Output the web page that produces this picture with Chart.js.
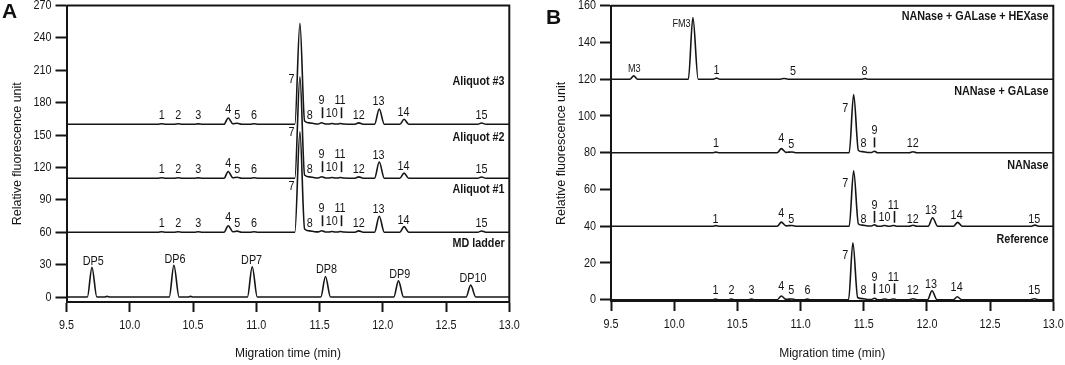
<!DOCTYPE html>
<html>
<head>
<meta charset="utf-8">
<script src="https://cdn.jsdelivr.net/npm/chart.js@4.4.1/dist/chart.umd.min.js"></script>
<style>
  html, body { margin: 0; padding: 0; background: #fff; }
  #wrap { position: relative; width: 1065px; height: 365px; overflow: hidden; background: #fff; }
  canvas { position: absolute; top: 0; }
  .panel { position: absolute; font: bold 21px "Liberation Sans", Arial, sans-serif; line-height: 20px; color: #111; }
</style>
</head>
<body>
<div id="wrap">
  <canvas id="cA" width="530" height="365" style="left:0;width:530px;height:365px"></canvas>
  <canvas id="cB" width="535" height="365" style="left:530px;width:535px;height:365px"></canvas>
  <div class="panel" style="left:2px;top:1px">A</div>
  <div class="panel" style="left:546px;top:7px">B</div>
</div>
<script>
// ---------------- shared ----------------
const xTicks = [9.5, 10.0, 10.5, 11.0, 11.5, 12.0, 12.5, 13.0];
const xTitle = 'Migration time (min)';
const yTitle = 'Relative fluorescence unit';

// ---------------- panel A ----------------
const yTicksA = [0, 30, 60, 90, 120, 150, 180, 210, 240, 270];
const traceNamesA = ['Aliquot #3', 'Aliquot #2', 'Aliquot #1', 'MD ladder'];
const baselinesA = [160, 110, 60, 0];
const traceNameDyA = [39.5, 38.2, 39.7, 49.7];

const aliquotTime = [9.50, 10.22, 10.252, 10.285, 10.35, 10.383, 10.415, 10.51, 10.541, 10.575,
  10.745, 10.778, 10.815, 10.849, 10.885, 10.95, 10.983, 11.015, 11.305, 11.345,
  11.382, 11.42, 11.46, 11.49, 11.516, 11.545, 11.575, 11.597, 11.625, 11.645,
  11.664, 11.69, 11.78, 11.810, 11.845, 11.935, 11.972, 12.012, 12.135, 12.168,
  12.205, 12.75, 12.780, 12.815, 13.00];
const aliquot3 = [0, 0, 0.5, 0, 0, 0.5, 0, 0, 0.4, 0,
  0, 5.8, 0.5, 1.0, 0, 0, 0.5, 0, 0, 93.5,
  3.0, 1.3, 0.5, 0.3, 1.4, 0.3, 0.2, 0.7, 0.2, 0.2,
  0.7, 0.2, 0, 1.3, 0, 0, 14.2, 0, 0, 4.6,
  0, 0, 1.2, 0, 0];
const aliquot2 = [0, 0, 0.5, 0, 0, 0.5, 0, 0, 0.4, 0,
  0, 6.2, 0.5, 1.0, 0, 0, 0.5, 0, 0, 94.0,
  3.0, 1.3, 0.5, 0.3, 1.4, 0.3, 0.2, 0.7, 0.2, 0.2,
  0.7, 0.2, 0, 1.3, 0, 0, 15.0, 0, 0, 4.8,
  0, 0, 1.2, 0, 0];
const aliquot1 = [0, 0, 0.5, 0, 0, 0.5, 0, 0, 0.4, 0,
  0, 6.0, 0.5, 1.0, 0, 0, 0.5, 0, 0, 93.0,
  3.0, 1.3, 0.5, 0.3, 1.4, 0.3, 0.2, 0.7, 0.2, 0.2,
  0.7, 0.2, 0, 1.3, 0, 0, 14.8, 0, 0, 5.2,
  0, 0, 1.2, 0, 0];
const ladderTime = [9.50, 9.665, 9.701, 9.74, 9.80, 9.82, 9.845, 10.312, 10.349, 10.39,
  10.46, 10.48, 10.50, 10.93, 10.968, 11.008, 11.510, 11.547, 11.587, 12.087,
  12.124, 12.164, 12.658, 12.695, 12.735, 13.00];
const ladder = [0, 0, 27.5, 0, 0, 0.6, 0, 0, 29.5, 0,
  0, 0.6, 0, 0, 28.0, 0, 0, 19.0, 0, 0,
  15.0, 0, 0, 11.0, 0, 0];

// peak labels: [text, time, height above trace baseline]
const aliquotLabels = [['1', 10.252, 8.4], ['2', 10.383, 8.4], ['3', 10.541, 8.4], ['4', 10.778, 14.0],
  ['5', 10.849, 8.0], ['6', 10.983, 8.4], ['7', 11.279, 42.0], ['8', 11.423, 8.0], ['9', 11.516, 22.5],
  ['10', 11.597, 10.0], ['11', 11.662, 22.5], ['12', 11.810, 8.2], ['13', 11.966, 21.6],
  ['14', 12.164, 10.9], ['15', 12.780, 8.6]];
const aliquotBars = [[11.516, 5.6, 15.7], [11.669, 5.6, 15.7]];
const ladderLabels = [['DP5', 9.712, 32.7], ['DP6', 10.357, 35.2], ['DP7', 10.963, 34.3],
  ['DP8', 11.555, 25.9], ['DP9', 12.134, 21.3], ['DP10', 12.713, 17.3]];

// ---------------- panel B ----------------
const yTicksB = [0, 20, 40, 60, 80, 100, 120, 140, 160];
const traceNamesB = ['NANase + GALase + HEXase', 'NANase + GALase', 'NANase', 'Reference'];
const baselinesB = [120, 80, 40, 0];
const traceNameDyB = [34.3, 33.4, 32.9, 33.0];

const hexTime = [9.50, 9.65, 9.68, 9.71, 10.112, 10.148, 10.19, 10.31, 10.335, 10.36,
  10.84, 10.87, 10.90, 11.48, 11.51, 11.54, 13.00];
const hexValues = [0, 0, 1.8, 0, 0, 33.5, 0, 0, 0.6, 0,
  0, 0.4, 0, 0, 0.3, 0, 0];
const galTime = [9.50, 10.30, 10.33, 10.36, 10.815, 10.848, 10.885, 10.905, 10.93, 10.96,
  11.385, 11.42, 11.458, 11.49, 11.53, 11.56, 11.585, 11.61, 11.86, 11.89,
  11.92, 13.00];
const galValues = [0, 0, 0.3, 0, 0, 2.2, 0.2, 0.3, 0.4, 0,
  0, 31.6, 1.2, 0.6, 0.1, 0.1, 0.8, 0, 0, 0.5,
  0, 0];
const nanTime = [9.50, 10.30, 10.33, 10.36, 10.815, 10.848, 10.885, 10.905, 10.93, 10.96,
  11.385, 11.42, 11.458, 11.49, 11.53, 11.56, 11.585, 11.61, 11.64, 11.665,
  11.69, 11.71, 11.735, 11.76, 11.86, 11.89, 11.92, 12.01, 12.045, 12.085,
  12.21, 12.243, 12.28, 12.82, 12.855, 12.89, 13.00];
const nanValues = [0, 0, 0.3, 0, 0, 2.2, 0.2, 0.3, 0.4, 0,
  0, 30.2, 1.2, 0.6, 0.1, 0.1, 0.8, 0, 0, 0.4,
  0, 0, 0.4, 0, 0, 0.5, 0, 0, 4.6, 0,
  0, 2.1, 0, 0, 0.6, 0, 0];
const refTime = [9.50, 10.30, 10.327, 10.355, 10.425, 10.453, 10.48, 10.585, 10.611, 10.64,
  10.815, 10.848, 10.885, 10.905, 10.93, 10.96, 11.025, 11.054, 11.08, 11.38,
  11.414, 11.452, 11.49, 11.53, 11.56, 11.585, 11.61, 11.64, 11.665, 11.69,
  11.71, 11.735, 11.76, 11.86, 11.89, 11.92, 12.005, 12.04, 12.08, 12.21,
  12.24, 12.275, 12.82, 12.85, 12.88, 13.00];
const refValues = [0, 0, 0.3, 0, 0, 0.3, 0, 0, 0.3, 0,
  0, 2.0, 0.2, 0.3, 0.4, 0, 0, 0.3, 0, 0,
  31.0, 1.2, 0.6, 0.1, 0.1, 0.8, 0, 0, 0.4, 0,
  0, 0.4, 0, 0, 0.5, 0, 0, 4.9, 0, 0,
  1.6, 0, 0, 0.5, 0, 0];

const hexLabels = [['M3', 9.684, 5.3], ['FM3', 10.058, 29.8], ['1', 10.335, 4.9], ['5', 10.94, 4.0], ['8', 11.506, 4.4]];
const galLabels = [['1', 10.33, 4.9], ['4', 10.848, 8.0], ['5', 10.927, 4.4], ['7', 11.354, 24.3],
  ['8', 11.498, 4.9], ['9', 11.585, 12.0], ['12', 11.888, 4.9]];
const galBars = [[11.585, 2.9, 8.3]];
const nanLabels = [['1', 10.327, 3.8], ['4', 10.848, 7.0], ['5', 10.927, 3.9], ['7', 11.354, 23.3],
  ['8', 11.498, 3.9], ['9', 11.585, 11.5], ['10', 11.664, 4.6], ['11', 11.735, 11.5],
  ['12', 11.888, 3.9], ['13', 12.033, 8.8], ['14', 12.235, 6.1], ['15', 12.849, 3.9]];
const nanBars = [[11.585, 1.9, 8.3], [11.743, 1.9, 8.3]];
const refLabels = [['1', 10.327, 4.9], ['2', 10.453, 4.9], ['3', 10.611, 4.9], ['4', 10.848, 7.5],
  ['5', 10.927, 4.9], ['6', 11.054, 4.9], ['7', 11.354, 24.3], ['8', 11.498, 4.9],
  ['9', 11.585, 12.2], ['10', 11.664, 5.7], ['11', 11.735, 12.2], ['12', 11.888, 4.9],
  ['13', 12.033, 8.4], ['14', 12.235, 6.5], ['15', 12.849, 4.9]];
const refBars = [[11.585, 3.1, 8.9], [11.743, 3.1, 8.9]];

// ---------------- rendering ----------------
const FONT = '"Liberation Sans", Arial, sans-serif';
const INK = '#151515';
const SQUEEZE = 0.83;   // the source figure's lettering is horizontally condensed

function pts(times, values, base) {
  return times.map((t, i) => ({ x: t, y: values[i] + base }));
}

function makeDatasets(traces) {
  return traces.map(tr => ({
    data: pts(tr.time, tr.values, tr.base),
    borderColor: INK,
    borderWidth: 1.6,
    pointRadius: 0,
    fill: false,
    cubicInterpolationMode: 'monotone'
  }));
}

function squeezedText(ctx, txt, x, y, font, align) {
  ctx.save();
  ctx.translate(x, y);
  ctx.scale(SQUEEZE, 1);
  ctx.font = font;
  ctx.textAlign = align;
  ctx.textBaseline = 'middle';
  ctx.fillText(txt, 0, 0);
  ctx.restore();
}

const annotPlugin = {
  id: 'annot',
  afterDatasetsDraw(chart, args, opts) {
    const { ctx } = chart;
    const xs = chart.scales.x, ys = chart.scales.y;
    ctx.save();
    ctx.fillStyle = INK;
    ctx.strokeStyle = INK;
    opts.groups.forEach(g => {
      g.labels.forEach(([txt, t, dy]) => {
        const small = opts.smallText && /[A-Z]/.test(txt);
        squeezedText(ctx, txt, xs.getPixelForValue(t), ys.getPixelForValue(g.base + dy),
          (small ? '11px ' : '13px ') + FONT, 'center');
      });
      (g.bars || []).forEach(([t, y0, y1]) => {
        const x = Math.round(xs.getPixelForValue(t)) + 0.5;
        ctx.lineWidth = 1.6;
        ctx.beginPath();
        ctx.moveTo(x, ys.getPixelForValue(g.base + y0));
        ctx.lineTo(x, ys.getPixelForValue(g.base + y1));
        ctx.stroke();
      });
      squeezedText(ctx, g.name, xs.getPixelForValue(opts.nameX), ys.getPixelForValue(g.base + g.nameDy),
        'bold 13px ' + FONT, 'right');
    });
    ctx.restore();
  }
};

// tick labels drawn at the library's own tick positions
const tickLabelPlugin = {
  id: 'tickLabels',
  afterDraw(chart) {
    const { ctx, chartArea } = chart;
    const xs = chart.scales.x, ys = chart.scales.y;
    ctx.save();
    ctx.fillStyle = INK;
    xs.ticks.forEach(tk => {
      squeezedText(ctx, Number(tk.value).toFixed(1), xs.getPixelForValue(tk.value), chartArea.bottom + 23,
        '13px ' + FONT, 'center');
    });
    ys.ticks.forEach(tk => {
      squeezedText(ctx, String(tk.value), chartArea.left - 15, ys.getPixelForValue(tk.value),
        '13px ' + FONT, 'right');
    });
    ctx.restore();
  }
};

const framePlugin = {
  id: 'frame',
  afterDraw(chart) {
    const { ctx, chartArea: { left, top, right, bottom } } = chart;
    ctx.save();
    ctx.strokeStyle = INK;
    ctx.lineWidth = 2;
    ctx.beginPath();
    ctx.moveTo(left, top);
    ctx.lineTo(right, top);
    ctx.lineTo(right, bottom + 1);
    ctx.stroke();
    ctx.restore();
  }
};

function makeChart(canvasId, cfg) {
  return new Chart(document.getElementById(canvasId), {
    type: 'line',
    data: { datasets: makeDatasets(cfg.traces) },
    options: {
      responsive: false,
      animation: false,
      devicePixelRatio: 1,
      layout: { padding: { top: cfg.padTop, right: cfg.padRight, left: 0, bottom: 0 } },
      plugins: {
        legend: { display: false },
        tooltip: { enabled: false },
        annot: { groups: cfg.groups, nameX: 12.963, smallText: cfg.smallText }
      },
      scales: {
        x: {
          type: 'linear',
          min: 9.5, max: 13.0,
          afterBuildTicks: s => { s.ticks = xTicks.map(v => ({ value: v })); },
          afterFit: s => { s.height = cfg.xHeight; s.paddingLeft = 0; s.paddingRight = 0; },
          ticks: { display: false, autoSkip: false },
          grid: { drawOnChartArea: false, tickLength: 10, tickWidth: 2, tickColor: INK },
          border: { color: INK, width: 2 },
          title: { display: true, text: xTitle, color: INK, font: { family: FONT, size: 12 }, padding: { top: 0, bottom: 4 } }
        },
        y: {
          type: 'linear',
          min: cfg.yMin, max: cfg.yMax,
          afterBuildTicks: s => { s.ticks = cfg.yTicks.map(v => ({ value: v })); },
          afterFit: s => { s.width = cfg.yWidth; s.paddingTop = 0; s.paddingBottom = 0; },
          ticks: { display: false },
          grid: { drawOnChartArea: false, tickLength: 11, tickWidth: 2, tickColor: INK },
          border: { color: INK, width: 2 },
          title: { display: true, text: yTitle, color: INK, font: { family: FONT, size: 12.5 }, padding: { top: cfg.yTitlePad, bottom: 0 } }
        }
      }
    },
    plugins: [annotPlugin, tickLabelPlugin, framePlugin]
  });
}

makeChart('cA', {
  traces: [
    { time: aliquotTime, values: aliquot3, base: baselinesA[0] },
    { time: aliquotTime, values: aliquot2, base: baselinesA[1] },
    { time: aliquotTime, values: aliquot1, base: baselinesA[2] },
    { time: ladderTime, values: ladder, base: baselinesA[3] }
  ],
  groups: [
    { base: baselinesA[0], labels: aliquotLabels, bars: aliquotBars, name: traceNamesA[0], nameDy: traceNameDyA[0] },
    { base: baselinesA[1], labels: aliquotLabels, bars: aliquotBars, name: traceNamesA[1], nameDy: traceNameDyA[1] },
    { base: baselinesA[2], labels: aliquotLabels, bars: aliquotBars, name: traceNamesA[2], nameDy: traceNameDyA[2] },
    { base: baselinesA[3], labels: ladderLabels, bars: [], name: traceNamesA[3], nameDy: traceNameDyA[3] }
  ],
  yTicks: yTicksA, yMin: -4.6, yMax: 270,
  padTop: 5.5, padRight: 20.7, xHeight: 63, yWidth: 66.5, yTitlePad: 10, smallText: false
});

makeChart('cB', {
  traces: [
    { time: hexTime, values: hexValues, base: baselinesB[0] },
    { time: galTime, values: galValues, base: baselinesB[1] },
    { time: nanTime, values: nanValues, base: baselinesB[2] },
    { time: refTime, values: refValues, base: baselinesB[3] }
  ],
  groups: [
    { base: baselinesB[0], labels: hexLabels, bars: [], name: traceNamesB[0], nameDy: traceNameDyB[0] },
    { base: baselinesB[1], labels: galLabels, bars: galBars, name: traceNamesB[1], nameDy: traceNameDyB[1] },
    { base: baselinesB[2], labels: nanLabels, bars: nanBars, name: traceNamesB[2], nameDy: traceNameDyB[2] },
    { base: baselinesB[3], labels: refLabels, bars: refBars, name: traceNamesB[3], nameDy: traceNameDyB[3] }
  ],
  yTicks: yTicksB, yMin: -0.7, yMax: 160,
  padTop: 5.7, padRight: 11.7, xHeight: 64, yWidth: 81, yTitlePad: 24, smallText: true
});
</script>
</body>
</html>
